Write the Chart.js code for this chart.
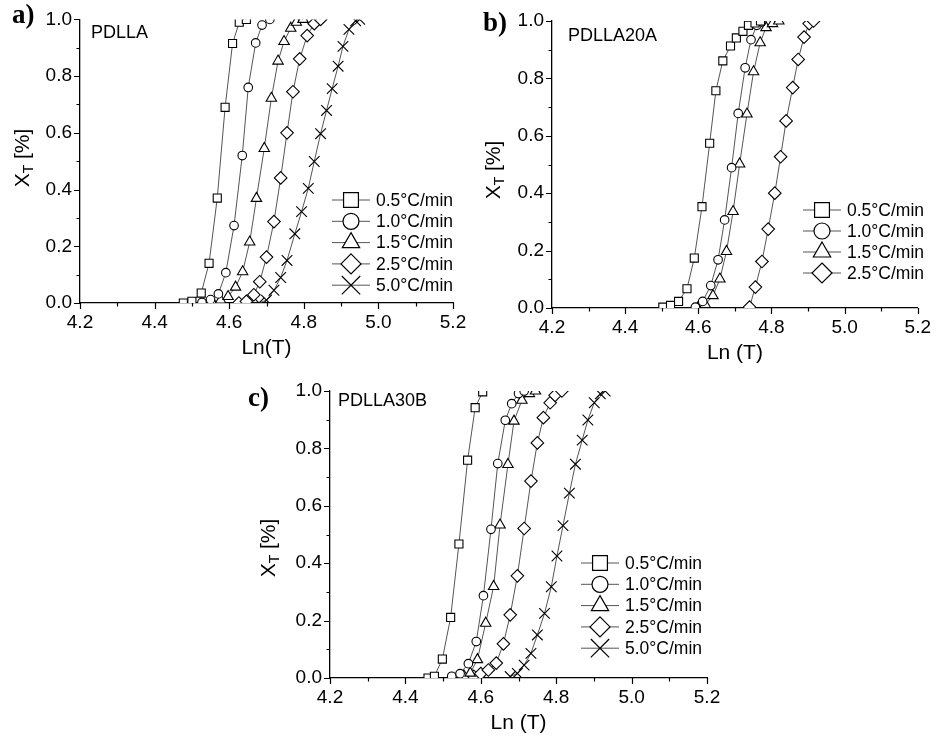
<!DOCTYPE html>
<html>
<head>
<meta charset="utf-8">
<script src="https://cdn.jsdelivr.net/npm/chart.js@4.4.0/dist/chart.umd.min.js"></script>
<style>
  html, body { margin: 0; padding: 0; background: #fff; }
  #wrap { position: relative; width: 939px; height: 739px; }
  #wrap canvas { position: absolute; left: 0; top: 0; }
</style>
</head>
<body>
<div id="wrap">
  <canvas id="chartA" width="939" height="739"></canvas>
  <canvas id="chartB" width="939" height="739"></canvas>
  <canvas id="chartC" width="939" height="739"></canvas>
</div>
<script>
// Legend labels (heating rates) and tick labels
const rateLabels = ['0.5°C/min', '1.0°C/min', '1.5°C/min', '2.5°C/min', '5.0°C/min'];
const xTickLabels = [4.2, 4.4, 4.6, 4.8, 5.0, 5.2];
const yTickLabels = [0.0, 0.2, 0.4, 0.6, 0.8, 1.0];

// a) PDLLA  -- [Ln(T), X_T]
const a05 = [[4.477,0.0],[4.50,0.006],[4.525,0.035],[4.546,0.14],[4.568,0.37],[4.589,0.69],[4.609,0.915],[4.627,0.99],[4.646,1.0]];
const a10 = [[4.527,0.002],[4.55,0.012],[4.571,0.032],[4.591,0.107],[4.613,0.273],[4.635,0.52],[4.651,0.76],[4.671,0.917],[4.688,0.98],[4.709,1.0]];
const a15 = [[4.555,0.003],[4.577,0.01],[4.597,0.023],[4.617,0.056],[4.636,0.11],[4.655,0.215],[4.673,0.369],[4.694,0.545],[4.713,0.722],[4.731,0.853],[4.747,0.922],[4.765,0.969],[4.78,0.99],[4.798,1.0]];
const a25 = [[4.626,0.0],[4.646,0.006],[4.666,0.029],[4.682,0.075],[4.70,0.162],[4.72,0.287],[4.738,0.441],[4.755,0.60],[4.771,0.745],[4.789,0.861],[4.809,0.943],[4.828,0.985],[4.845,1.0]];
const a50 = [[4.68,0.0],[4.70,0.01],[4.72,0.045],[4.738,0.09],[4.755,0.15],[4.776,0.244],[4.794,0.322],[4.812,0.404],[4.828,0.499],[4.845,0.597],[4.861,0.679],[4.876,0.756],[4.892,0.835],[4.905,0.905],[4.921,0.965],[4.939,0.995],[4.95,1.0]];

// b) PDLLA20A
const b05 = [[4.503,0.003],[4.524,0.009],[4.546,0.023],[4.569,0.067],[4.589,0.174],[4.61,0.353],[4.631,0.574],[4.648,0.757],[4.667,0.861],[4.688,0.913],[4.704,0.941],[4.722,0.964],[4.737,0.985],[4.755,0.993],[4.77,1.0]];
const b10 = [[4.592,0.003],[4.612,0.023],[4.634,0.078],[4.654,0.168],[4.672,0.307],[4.691,0.489],[4.709,0.678],[4.728,0.837],[4.744,0.935],[4.76,0.985],[4.773,0.997]];
const b15 = [[4.598,0.0],[4.619,0.012],[4.64,0.043],[4.659,0.101],[4.677,0.197],[4.695,0.336],[4.713,0.502],[4.733,0.676],[4.751,0.823],[4.769,0.924],[4.785,0.977],[4.803,0.991],[4.82,1.0]];
const b25 = [[4.74,0.003],[4.756,0.073],[4.774,0.162],[4.791,0.275],[4.809,0.40],[4.825,0.527],[4.84,0.652],[4.858,0.768],[4.873,0.866],[4.889,0.944],[4.903,0.991],[4.915,1.0]];

// c) PDLLA30B
const c05 = [[4.46,0.0],[4.477,0.006],[4.498,0.066],[4.52,0.211],[4.542,0.467],[4.565,0.759],[4.585,0.942],[4.605,0.997]];
const c10 = [[4.523,0.006],[4.545,0.015],[4.567,0.05],[4.588,0.127],[4.607,0.287],[4.627,0.518],[4.645,0.747],[4.665,0.898],[4.682,0.956],[4.70,0.991],[4.715,1.0]];
const c15 = [[4.555,0.008],[4.572,0.017],[4.591,0.064],[4.613,0.191],[4.634,0.319],[4.651,0.533],[4.672,0.744],[4.688,0.895],[4.709,0.968],[4.729,0.991],[4.745,1.0]];
const c25 = [[4.581,0.006],[4.60,0.015],[4.62,0.028],[4.641,0.052],[4.66,0.119],[4.678,0.22],[4.697,0.356],[4.715,0.521],[4.733,0.686],[4.75,0.819],[4.766,0.907],[4.784,0.959],[4.797,0.985],[4.815,1.0]];
const c50 = [[4.678,0.005],[4.697,0.016],[4.715,0.045],[4.733,0.086],[4.75,0.15],[4.769,0.225],[4.787,0.318],[4.802,0.425],[4.818,0.531],[4.835,0.644],[4.851,0.745],[4.869,0.829],[4.884,0.899],[4.901,0.959],[4.917,0.99],[4.93,1.0]];

// marker style per heating rate (r = plot, lr = legend)
const markers = [
  { style: 'rect', r: 5.7, lr: 10.5 },
  { style: 'circle', r: 4.3, lr: 8 },
  { style: 'triangle', r: 6, lr: 10 },
  { style: 'rectRot', r: 6.3, lr: 10 },
  { style: 'crossRot', r: 7.5, lr: 13 }
];

const SANS = '"Liberation Sans", Arial, sans-serif';
const SERIF = '"Liberation Serif", "Times New Roman", serif';

function isMajor(v) { return Math.round(v * 10) % 2 === 0; }

function drawMarker(ctx, style, x, y, r) {
  ctx.beginPath();
  if (style === 'rect') {
    const s = Math.SQRT1_2 * r;
    ctx.rect(x - s, y - s, 2 * s, 2 * s);
    ctx.fill(); ctx.stroke();
  } else if (style === 'circle') {
    ctx.arc(x, y, r, 0, Math.PI * 2);
    ctx.fill(); ctx.stroke();
  } else if (style === 'triangle') {
    ctx.moveTo(x, y - r);
    ctx.lineTo(x + r * Math.sin(Math.PI * 2 / 3), y + r / 2);
    ctx.lineTo(x - r * Math.sin(Math.PI * 2 / 3), y + r / 2);
    ctx.closePath();
    ctx.fill(); ctx.stroke();
  } else if (style === 'rectRot') {
    ctx.moveTo(x, y - r); ctx.lineTo(x + r, y); ctx.lineTo(x, y + r); ctx.lineTo(x - r, y);
    ctx.closePath();
    ctx.fill(); ctx.stroke();
  } else if (style === 'crossRot') {
    const s = Math.SQRT1_2 * r;
    ctx.moveTo(x - s, y - s); ctx.lineTo(x + s, y + s);
    ctx.moveTo(x + s, y - s); ctx.lineTo(x - s, y + s);
    ctx.stroke();
  }
}

// axis ticks, titles, panel letter, sample name and legend
const panelDecor = {
  id: 'panelDecor',
  afterDraw(chart, args, o) {
    const ctx = chart.ctx;
    const area = chart.chartArea;
    const xs = chart.scales.x, ys = chart.scales.y;
    ctx.save();
    ctx.strokeStyle = '#000';
    ctx.lineWidth = 1.2;
    ctx.beginPath();
    xs.ticks.forEach(t => {
      const px = Math.round(xs.getPixelForValue(t.value)) + 0.5;
      const len = isMajor(t.value) ? 6 : 3.5;
      ctx.moveTo(px, area.bottom); ctx.lineTo(px, area.bottom + len);
    });
    ys.ticks.forEach(t => {
      const py = Math.round(ys.getPixelForValue(t.value)) + 0.5;
      const len = isMajor(t.value) ? 6 : 3.5;
      ctx.moveTo(area.left, py); ctx.lineTo(area.left - len, py);
    });
    ctx.stroke();

    ctx.fillStyle = '#000';
    // x title
    ctx.font = '21px ' + SANS;
    ctx.textAlign = 'center';
    ctx.textBaseline = 'middle';
    ctx.fillText(o.xTitle, (area.left + area.right) / 2, area.bottom + 45);

    // y title with subscript
    ctx.save();
    ctx.translate(o.yTitle[0], o.yTitle[1]);
    ctx.rotate(-Math.PI / 2);
    ctx.textAlign = 'left';
    ctx.textBaseline = 'alphabetic';
    ctx.font = '21px ' + SANS;
    const wX = ctx.measureText('X').width;
    const wRest = ctx.measureText(' [%]').width;
    ctx.font = '14px ' + SANS;
    const wT = ctx.measureText('T').width;
    let sx = -(wX + wT + wRest) / 2;
    ctx.font = '21px ' + SANS;
    ctx.fillText('X', sx, 7);
    ctx.font = '14px ' + SANS;
    ctx.fillText('T', sx + wX, 11);
    ctx.font = '21px ' + SANS;
    ctx.fillText(' [%]', sx + wX + wT, 7);
    ctx.restore();

    // panel letter
    ctx.font = 'bold 27px ' + SERIF;
    ctx.textAlign = 'left';
    ctx.textBaseline = 'alphabetic';
    ctx.fillText(o.letter, o.letterPos[0], o.letterPos[1]);

    // sample name
    ctx.font = '18px ' + SANS;
    ctx.fillText(o.name, o.namePos[0], o.namePos[1]);

    // legend
    const lg = o.legend;
    ctx.font = '17.5px ' + SANS;
    ctx.textBaseline = 'middle';
    chart.data.datasets.forEach((ds, i) => {
      const y = lg.y + i * lg.step;
      ctx.strokeStyle = '#555';
      ctx.lineWidth = 1;
      ctx.beginPath();
      ctx.moveTo(lg.x - 19, y); ctx.lineTo(lg.x + 19, y);
      ctx.stroke();
      ctx.strokeStyle = '#000';
      ctx.fillStyle = '#fff';
      ctx.lineWidth = 1.2;
      drawMarker(ctx, markers[i].style, lg.x, y, markers[i].lr);
      ctx.fillStyle = '#000';
      ctx.fillText(ds.label, lg.x + 25, y + 1);
    });
    ctx.restore();
  }
};

function makeDatasets(series) {
  return series.map((pts, i) => ({
    label: rateLabels[i],
    data: pts.map(p => ({ x: p[0], y: p[1] })),
    showLine: true,
    borderColor: '#555',
    borderWidth: 1,
    pointStyle: markers[i].style,
    pointRadius: markers[i].r,
    pointBorderColor: '#000',
    pointBackgroundColor: '#fff',
    pointBorderWidth: 1.1
  }));
}

function makeChart(id, series, padding, decor) {
  const tickFont = { family: SANS, size: 19 };
  return new Chart(document.getElementById(id), {
    type: 'scatter',
    data: { datasets: makeDatasets(series) },
    options: {
      responsive: false,
      animation: false,
      layout: { padding: padding },
      plugins: { legend: { display: false }, tooltip: { enabled: false }, panelDecor: decor },
      scales: {
        x: {
          type: 'linear', min: 4.2, max: 5.2,
          grid: { display: false, drawTicks: false },
          border: { display: true, color: '#000', width: 1.3 },
          ticks: {
            stepSize: 0.1, autoSkip: false, padding: 8, color: '#000', font: tickFont,
            callback: v => {
              const hit = xTickLabels.find(t => Math.abs(t - v) < 1e-6);
              return hit !== undefined ? hit.toFixed(1) : '';
            }
          },
          afterFit: s => { s.height = 60; }
        },
        y: {
          type: 'linear', min: 0, max: 1,
          grid: { display: false, drawTicks: false },
          border: { display: true, color: '#000', width: 1.3 },
          ticks: {
            stepSize: 0.1, autoSkip: false, padding: 8, color: '#000', font: tickFont,
            callback: v => {
              const hit = yTickLabels.find(t => Math.abs(t - v) < 1e-6);
              return hit !== undefined ? hit.toFixed(1) : '';
            }
          },
          afterFit: s => { s.width = 60; }
        }
      }
    },
    plugins: [panelDecor]
  });
}

makeChart('chartA', [a05, a10, a15, a25, a50],
  { left: 20, right: 486, top: 16, bottom: 376 },
  { letter: 'a)', letterPos: [12, 23], name: 'PDLLA', namePos: [91, 38], xTitle: 'Ln(T)',
    yTitle: [22, 158], legend: { x: 351, y: 200, step: 21.3 } });

makeChart('chartB', [b05, b10, b15, b25],
  { left: 492, right: 15, top: 21, bottom: 371 },
  { letter: 'b)', letterPos: [483, 31], name: 'PDLLA20A', namePos: [568, 41], xTitle: 'Ln (T)',
    yTitle: [493, 170], legend: { x: 822, y: 210, step: 21 } });

makeChart('chartC', [c05, c10, c15, c25, c50],
  { left: 270, right: 232, top: 391, bottom: 1 },
  { letter: 'c)', letterPos: [248, 406], name: 'PDLLA30B', namePos: [338, 406], xTitle: 'Ln (T)',
    yTitle: [268, 548], legend: { x: 600, y: 563, step: 21.3 } });
</script>
</body>
</html>
